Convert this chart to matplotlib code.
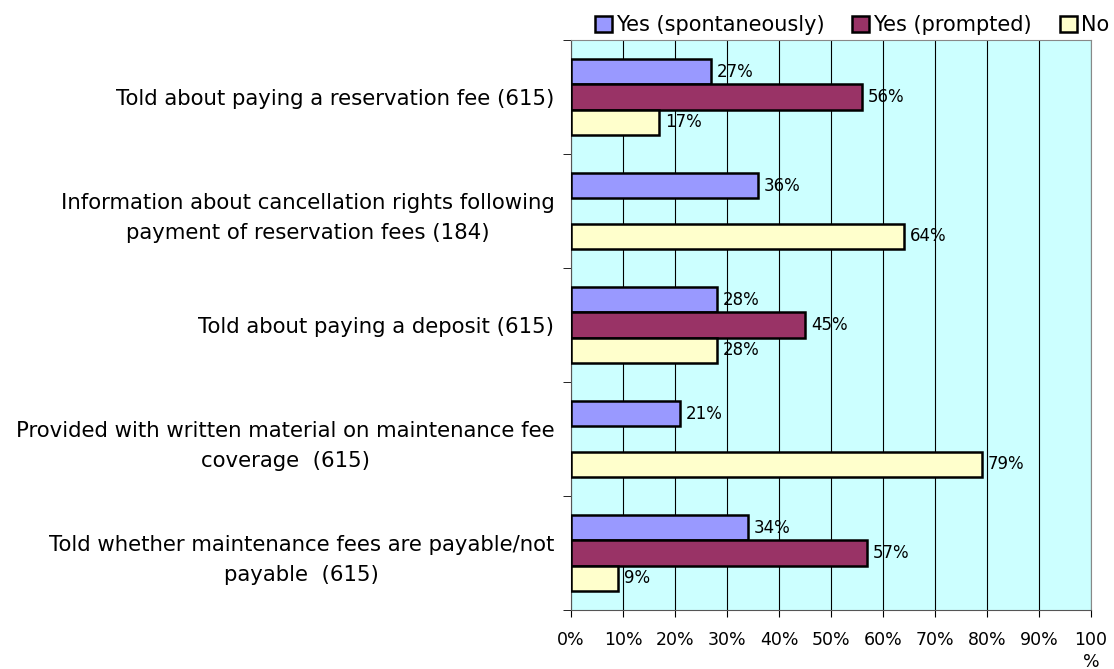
import numpy as np
import matplotlib.pyplot as plt
from matplotlib.ticker import FixedLocator

plt.rcParams.update({'font.family': 'DejaVu Sans'})

categories = ['Told about paying a reservation fee (615)',
              'Information about cancellation rights following\npayment of reservation fees (184)',
              'Told about paying a deposit (615)',
              'Provided with written material on maintenance fee\ncoverage  (615)',
              'Told whether maintenance fees are payable/not\npayable  (615)']
spontaneous = [27, 36, 28, 21, 34]
prompted = [56, None, 45, None, 57]
no = [17, 64, 28, 79, 9]
series_names = ['Yes (spontaneously)', 'Yes (prompted)', 'No']
colors = ['#9999FF', '#993366', '#FFFFCC']
xticks = [0, 10, 20, 30, 40, 50, 60, 70, 80, 90, 100]
xticklabels = ['0%', '10%', '20%', '30%', '40%', '50%', '60%', '70%', '80%', '90%', '100\n%']

fig = plt.figure(figsize=(11.14, 6.69), dpi=100)
ax = fig.add_axes([0.5126, 0.0882, 0.4668, 0.852])
ax.set_facecolor('#CCFFFF')

h = 0.22
y = np.arange(len(categories))
for k, (vals, c, name) in enumerate(zip([spontaneous, prompted, no], colors, series_names)):
    off = (k - 1) * h
    ys, vs = [], []
    for i, v in enumerate(vals):
        if v is not None:
            ys.append(y[i] + off)
            vs.append(v)
    ax.barh(ys, vs, height=h, color=c, edgecolor='black', linewidth=1.8, label=name, zorder=3)
    for yy, v in zip(ys, vs):
        ax.text(v + 1.1, yy, f'{v}%', va='center', ha='left', fontsize=12, zorder=4)

ax.set_xlim(0, 100)
ax.set_ylim(len(categories) - 0.5, -0.5)
ax.set_xticks(xticks)
ax.set_xticklabels(xticklabels, fontsize=12.5, linespacing=1.3)
ax.tick_params(axis='x', length=5, pad=10)
ax.xaxis.grid(True, color='black', linewidth=0.8, zorder=1)
ax.set_axisbelow(True)

ax.set_yticks(y)
ax.set_yticklabels(categories, fontsize=15.3, multialignment='center', linespacing=1.6)
ax.tick_params(axis='y', which='major', length=0, pad=12)
ax.yaxis.set_minor_locator(FixedLocator(np.arange(-0.5, len(categories), 1.0)))
ax.tick_params(axis='y', which='minor', length=6)

for s in ['top', 'right']:
    ax.spines[s].set_color('#888888')
ax.spines['left'].set_color('#555555')
ax.spines['bottom'].set_color('#555555')

handles, labels = ax.get_legend_handles_labels()
leg = fig.legend(handles, labels, loc='lower left', bbox_to_anchor=(0.534, 0.947), ncol=3,
                 frameon=False, fontsize=15, handlelength=0.8, handleheight=0.8,
                 handletextpad=0.2, columnspacing=1.35, borderaxespad=0, borderpad=0)

fig.savefig('out.png', dpi=100)
